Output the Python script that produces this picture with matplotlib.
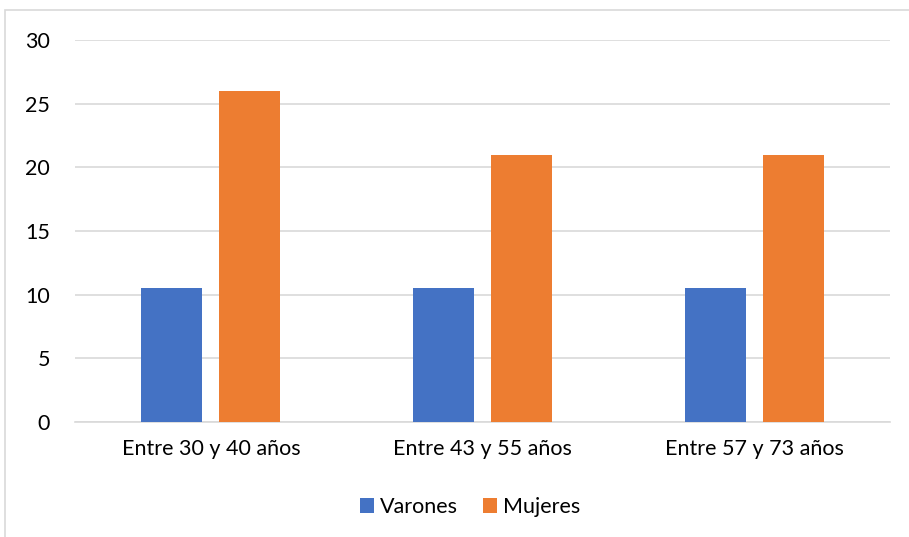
import matplotlib
matplotlib.use("Agg")
import matplotlib.pyplot as plt
import numpy as np
from matplotlib.patches import Rectangle

categories = ["Entre 30 y 40 años", "Entre 43 y 55 años", "Entre 57 y 73 años"]
varones = [10.5, 10.5, 10.5]
mujeres = [26, 21, 21]
series_names = ["Varones", "Mujeres"]
yticks = [0, 5, 10, 15, 20, 25, 30]

plt.rcParams['font.family'] = ['Lato', 'DejaVu Sans']

fig = plt.figure(figsize=(9.09, 5.37), dpi=100)
fig.patch.set_facecolor("white")

# outer chart border (cropped at right/bottom)
fig.patches.append(Rectangle((5/909, -0.1), 1.2, (537-10)/537 + 0.1,
                             transform=fig.transFigure, fill=False,
                             edgecolor="#d9d9d9", linewidth=1.2))

ax = fig.add_axes([75/909, (537-422)/537, 815/909, 382/537])
x = np.arange(len(categories))
w = 0.2245
off = 0.1435
ax.bar(x - off, varones, width=w, color="#4472C4", label=series_names[0], zorder=3)
ax.bar(x + off, mujeres, width=w, color="#ED7D31", label=series_names[1], zorder=3)

ax.set_xlim(-0.5, 2.5)
ax.set_ylim(0, 30)
ax.set_yticks(yticks)
ax.set_xticks(x)
ax.set_xticklabels(categories)
ax.yaxis.grid(True, color="#d9d9d9", linewidth=1.2, zorder=0)
ax.set_axisbelow(True)
for s in ["top", "right", "left"]:
    ax.spines[s].set_visible(False)
ax.spines["bottom"].set_color("#d9d9d9")
ax.spines["bottom"].set_linewidth(1.2)
ax.tick_params(axis="both", length=0, labelsize=15.5, colors="#000000")
ax.tick_params(axis="y", pad=18)
ax.tick_params(axis="x", pad=12)

ax.legend(loc="center", bbox_to_anchor=(470/909, (537-507)/537), bbox_transform=fig.transFigure,
          ncol=2, frameon=False, fontsize=15.5, handlelength=0.65, handleheight=0.65,
          handletextpad=0.25, columnspacing=1.2)

fig.savefig("out.png", dpi=100)
